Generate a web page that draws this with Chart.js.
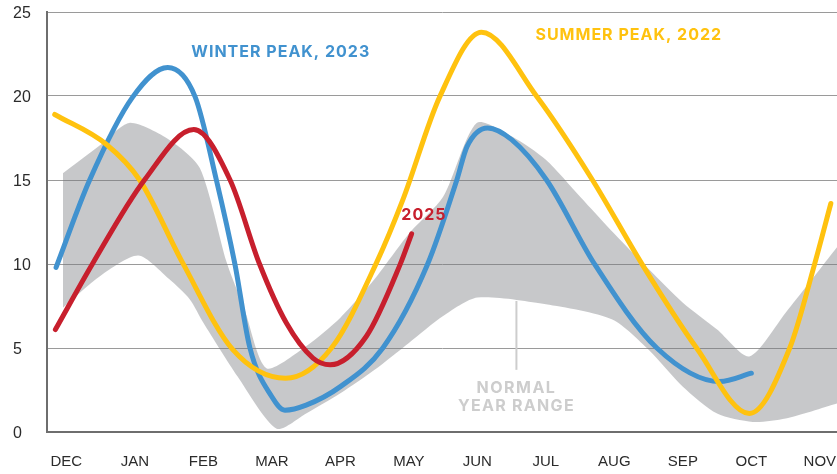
<!DOCTYPE html>
<html>
<head>
<meta charset="utf-8">
<script src="https://cdn.jsdelivr.net/npm/chart.js@4/dist/chart.umd.min.js"></script>
<style>
  html, body { margin: 0; padding: 0; background: #fff; }
  #wrap { width: 837px; height: 474px; position: relative; }
</style>
</head>
<body>
<div id="wrap"><canvas id="grafico"></canvas></div>
<script>
// Meses del eje X (DEC = 0 ... NOV = 11)
const meses = ['DEC', 'JAN', 'FEB', 'MAR', 'APR', 'MAY', 'JUN', 'JUL', 'AUG', 'SEP', 'OCT', 'NOV'];
const yTicks = [0, 5, 10, 15, 20, 25];

// Summer peak, 2022
const verano2022X = [-0.17, 0.59, 1.07, 1.7, 2.43, 3.2, 3.87, 4.53, 4.91, 5.45, 6.06, 6.87, 7.68, 8.41, 9.2, 9.97, 10.56, 10.92, 11.16];
const verano2022Y = [18.9, 17.1, 15.0, 10.05, 4.9, 3.2, 5.0, 10.1, 13.8, 19.95, 23.8, 19.95, 15.0, 9.95, 5.0, 1.1, 5.0, 9.95, 13.6];

// Winter peak, 2023
const invierno2023X = [-0.15, 0.34, 0.97, 1.48, 1.88, 2.19, 2.46, 2.68, 3.0, 3.19, 3.5, 4.0, 4.62, 5.27, 5.7, 5.85, 6.15, 6.5, 7.01, 7.71, 8.62, 9.54, 10.0];
const invierno2023Y = [9.8, 15.0, 19.95, 21.7, 19.95, 15.0, 10.0, 5.0, 2.1, 1.3, 1.6, 2.7, 5.0, 9.95, 15.0, 17.0, 18.1, 17.4, 15.0, 10.0, 5.0, 3.0, 3.5];

// 2025
const anio2025X = [-0.16, 0.38, 1.14, 1.86, 2.39, 2.82, 3.21, 3.6, 3.85, 4.38, 4.87, 5.04];
const anio2025Y = [6.1, 10.0, 15.0, 18.0, 15.0, 10.0, 6.5, 4.4, 4.0, 5.7, 9.95, 11.8];

// Normal year range (banda)
const rangoAltoX = [-0.05, 0.5, 0.92, 1.5, 1.95, 2.34, 2.6, 2.92, 3.5, 4, 4.5, 5, 5.5, 5.99, 6.5, 7, 7.5, 8, 8.5, 9, 9.5, 9.97, 10.5, 11.25];
const rangoAltoY = [15.4, 17.1, 18.4, 17.4, 15.7, 10.1, 7.3, 3.8, 5.1, 6.8, 9.1, 11.8, 14.0, 18.4, 17.6, 16.2, 14.0, 11.8, 9.7, 7.7, 6.1, 4.5, 7.1, 11.0];
const rangoBajoX = [-0.05, 0.5, 1.05, 1.5, 1.8, 2, 2.5, 3.07, 3.5, 4, 4.5, 5, 5.5, 6.0, 7, 7.97, 8.5, 9, 9.5, 10.02, 10.5, 11.25];
const rangoBajoY = [7.4, 9.3, 10.5, 9.1, 7.9, 6.5, 3.3, 0.2, 1.1, 2.3, 3.7, 5.3, 6.9, 8.0, 7.6, 6.7, 4.9, 2.7, 1.1, 0.6, 0.8, 1.7];

const COLORES = {
  azul: '#4192cf',
  amarillo: '#ffc20f',
  rojo: '#c71f2d',
  banda: 'rgba(120, 122, 127, 0.41)',
  texto: '#2b2b2b',
  etiquetaGris: '#cdcdcd'
};

function puntos(xs, ys) {
  return xs.map((x, i) => ({ x: x, y: ys[i] }));
}

function linea(label, xs, ys, color) {
  return {
    label: label,
    data: puntos(xs, ys),
    borderColor: color,
    borderWidth: 5,
    borderCapStyle: 'round',
    pointRadius: 0,
    cubicInterpolationMode: 'monotone',
    fill: false
  };
}

// Textos sobre el gráfico (en coordenadas de datos)
const etiquetas = [
  { text: 'WINTER PEAK, 2023', x: 3.13, y: 22.6, color: COLORES.azul, sp: '1px' },
  { text: 'SUMMER PEAK, 2022', x: 8.21, y: 23.6, color: COLORES.amarillo, sp: '1px' },
  { text: '2025', x: 5.22, y: 12.9, color: COLORES.rojo, sp: '1px' },
  { text: 'NORMAL', x: 6.57, y: 2.6, color: COLORES.etiquetaGris, sp: '1.5px' },
  { text: 'YEAR RANGE', x: 6.57, y: 1.55, color: COLORES.etiquetaGris, sp: '1.3px' }
];

const etiquetasPlugin = {
  id: 'etiquetas',
  afterDatasetsDraw(chart) {
    const { ctx, scales: { x, y } } = chart;
    ctx.save();
    // línea guía de "normal year range"
    ctx.strokeStyle = COLORES.etiquetaGris;
    ctx.lineWidth = 2;
    ctx.beginPath();
    ctx.moveTo(x.getPixelForValue(6.57), y.getPixelForValue(7.8));
    ctx.lineTo(x.getPixelForValue(6.57), y.getPixelForValue(3.7));
    ctx.stroke();

    ctx.font = 'bold 16px Inter';
    ctx.textAlign = 'center';
    ctx.textBaseline = 'middle';
    etiquetas.forEach(e => {
      ctx.letterSpacing = e.sp;
      ctx.fillStyle = e.color;
      ctx.fillText(e.text, x.getPixelForValue(e.x), y.getPixelForValue(e.y));
    });
    ctx.restore();
  }
};

const data = {
  datasets: [
    linea('2025', anio2025X, anio2025Y, COLORES.rojo),
    linea('Summer peak, 2022', verano2022X, verano2022Y, COLORES.amarillo),
    linea('Winter peak, 2023', invierno2023X, invierno2023Y, COLORES.azul),
    {
      label: 'Normal alto',
      data: puntos(rangoAltoX, rangoAltoY),
      borderWidth: 0,
      borderColor: 'rgba(0,0,0,0)',
      backgroundColor: COLORES.banda,
      pointRadius: 0,
      tension: 0.25,
      fill: '+1'
    },
    {
      label: 'Normal bajo',
      data: puntos(rangoBajoX, rangoBajoY),
      borderWidth: 0,
      borderColor: 'rgba(0,0,0,0)',
      pointRadius: 0,
      tension: 0.25,
      fill: false
    }
  ]
};

const config = {
  type: 'line',
  data: data,
  options: {
    responsive: true,
    maintainAspectRatio: false,
    animation: false,
    layout: {
      padding: { left: 13, top: 12, right: 0, bottom: 0 }
    },
    plugins: {
      legend: { display: false },
      tooltip: { enabled: false }
    },
    scales: {
      x: {
        type: 'linear',
        min: -0.29,
        max: 11.25,
        grid: { display: false, drawTicks: false },
        border: { display: true, color: '#6e6e6e', width: 2 },
        ticks: {
          stepSize: 1,
          includeBounds: false,
          autoSkip: false,
          maxRotation: 0,
          padding: 21,
          color: COLORES.texto,
          font: { family: 'Liberation Sans', size: 15 },
          callback: v => meses[v]
        },
        afterFit: scale => {
          scale.height = 42;
          scale.paddingLeft = 0;
          scale.paddingRight = 0;
        }
      },
      y: {
        min: 0,
        max: 25,
        grid: { color: '#9a9a9a', lineWidth: 1, drawTicks: false },
        border: { display: true, color: '#6e6e6e', width: 2 },
        afterBuildTicks: scale => {
          scale.ticks = yTicks.map(v => ({ value: v }));
        },
        ticks: {
          crossAlign: 'far',
          padding: 0,
          labelOffset: 2,
          color: COLORES.texto,
          font: { family: 'Liberation Sans', size: 16 }
        },
        afterFit: scale => {
          scale.width = 33.5;
          scale.paddingTop = 0;
          scale.paddingBottom = 0;
        }
      }
    }
  },
  plugins: [etiquetasPlugin]
};

window.addEventListener('DOMContentLoaded', () => {
  const ctx = document.getElementById('grafico').getContext('2d');
  new Chart(ctx, config);
});
</script>
</body>
</html>
